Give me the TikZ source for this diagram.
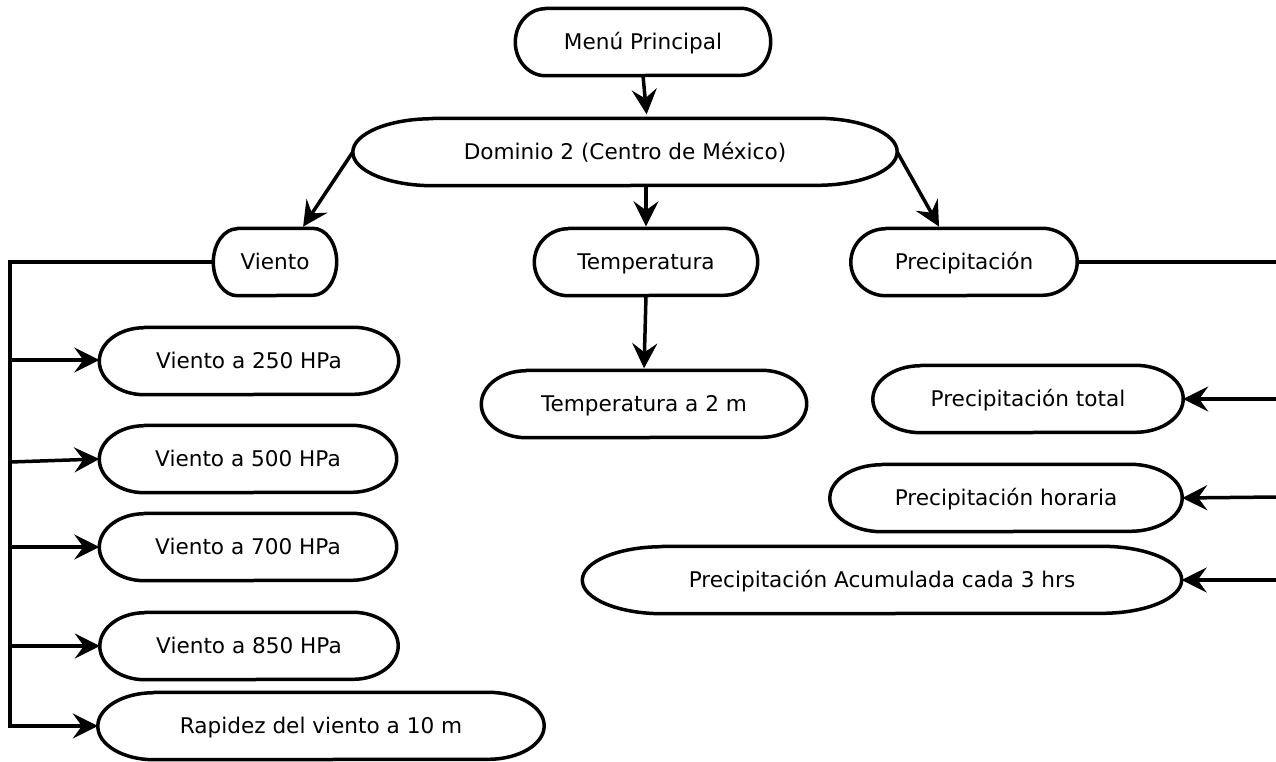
\documentclass[tikz,border=0pt]{standalone}
\usepackage{fontspec}
\setmainfont{DejaVu Sans}
\usetikzlibrary{arrows.meta,calc}
\tikzset{
  box/.style={rectangle, draw=none, inner sep=0pt, minimum height=67pt, text height=15.5pt, text depth=0pt, font=\fontsize{21.6}{26}\selectfont},
  conn/.style={line width=3.5pt, draw=black},
  arr/.style={conn, -{Stealth[length=25pt,width=25pt,inset=9pt]}},
  outline/.style={line width=3.5pt, draw=black, line join=round}
}
% name, cx, cy, width, end radius, text
\newcommand\stadnode[6]{%
  \node[box, minimum width=#4pt] (#1) at (#2,#3) {#6};
  \draw[outline] ($(#1.north west)+(#5,0)$) -- ($(#1.north east)+(-#5,0)$)
    arc[start angle=-90, end angle=90, x radius=#5, y radius=33.5]
    -- ($(#1.south west)+(#5,0)$)
    arc[start angle=90, end angle=270, x radius=#5, y radius=33.5] -- cycle;
}
\begin{document}
\begin{tikzpicture}[x=1pt, y=-1pt]
\useasboundingbox (0,0) rectangle (1276,761);
\stadnode{menu}{643}{42}{255}{30}{Menú Principal}
\stadnode{dom}{625}{152}{544}{80}{Dominio 2 (Centro de México)}
\stadnode{viento}{275}{262}{123}{24}{Viento}
\stadnode{temp}{646}{262}{223}{34}{Temperatura}
\stadnode{precip}{964}{262}{226}{35}{Precipitación}
\stadnode{v250}{249}{361}{299}{45}{Viento a 250 HPa}
\stadnode{v500}{248}{459}{297}{45}{Viento a 500 HPa}
\stadnode{v700}{248}{547}{297}{45}{Viento a 700 HPa}
\stadnode{v850}{249}{646}{298}{45}{Viento a 850 HPa}
\stadnode{rap}{321}{726}{446}{56}{Rapidez del viento a 10 m}
\stadnode{temp2}{644}{404}{325}{45}{Temperatura a 2 m}
\stadnode{ptot}{1028}{399}{310}{48}{Precipitación total}
\stadnode{phor}{1006}{498}{352}{52}{Precipitación horaria}
\stadnode{pacu}{882}{580}{599}{80}{Precipitación Acumulada cada 3 hrs}

% top connectors
\draw[arr, shorten >=4pt] (menu.south) -- ([xshift=22pt]dom.north);
\draw[arr, shorten >=2pt] (dom.west) -- ([xshift=27pt]viento.north);
\draw[arr, shorten >=2pt] ([xshift=21pt]dom.south) -- (temp.north);
\draw[arr, shorten >=2pt] (dom.east) -- ([xshift=-24pt]precip.north);
\draw[arr, shorten >=2pt] (temp.south) -- (temp2.north);

% Viento bus
\coordinate (vb0) at (10,262);
\coordinate (vb1) at (10,360);
\coordinate (vb2) at (10,462);
\coordinate (vb3) at (10,547);
\coordinate (vb4) at (10,646);
\coordinate (vb5) at (10,726);
\draw[conn, line join=miter] (viento.west) -- (vb0) -- (vb5);
\draw[arr, line join=miter] (vb4) -- (vb5) -- (rap.west);
\draw[arr] (vb1) -- ([yshift=1pt]v250.west);
\draw[arr] (vb2) -- (v500.west);
\draw[arr] (vb3) -- (v700.west);
\draw[arr] (vb4) -- (v850.west);

% Precipitación bus
\coordinate (pb0) at (1276,262);
\coordinate (pb1) at (1276,399);
\coordinate (pb2) at (1276,497);
\coordinate (pb3) at (1276,580);
\draw[conn] (precip.east) -- (pb0);
\draw[arr] (pb1) -- (ptot.east);
\draw[arr] (pb2) -- (phor.east);
\draw[arr] (pb3) -- (pacu.east);
\end{tikzpicture}
\end{document}
